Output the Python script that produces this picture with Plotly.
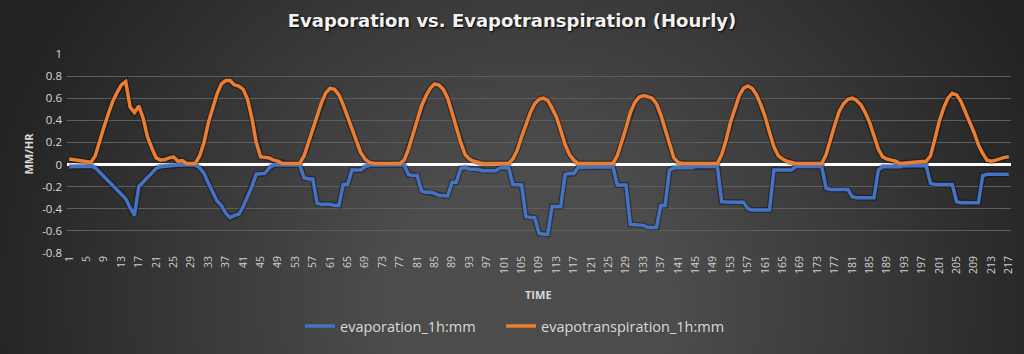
import zlib, struct, base64
import numpy as np
import plotly.graph_objects as go

# ---------------- data ----------------
hours = list(range(1, 218))

evapotranspiration = [
    0.05, 0.045, 0.04, 0.035, 0.03, 0.02, 0.08, 0.22, 0.34, 0.46,
    0.57, 0.65, 0.72, 0.75, 0.52, 0.47, 0.53, 0.42, 0.25, 0.15,
    0.06, 0.04, 0.045, 0.06, 0.07, 0.03, 0.035, 0.01, 0.01, 0.01,
    0.08, 0.2, 0.38, 0.52, 0.64, 0.73, 0.76, 0.76, 0.72, 0.71,
    0.68, 0.59, 0.42, 0.2, 0.07, 0.065, 0.06, 0.04, 0.03, 0.01,
    0.01, 0.01, 0.01, 0.01, 0.08, 0.2, 0.32, 0.44, 0.56, 0.65,
    0.69, 0.68, 0.63, 0.54, 0.43, 0.32, 0.2, 0.11, 0.05, 0.02,
    0.01, 0.01, 0.01, 0.01, 0.01, 0.01, 0.01, 0.04, 0.14, 0.27,
    0.40, 0.53, 0.62, 0.69, 0.73, 0.72, 0.68, 0.6, 0.47, 0.33,
    0.2, 0.09, 0.05, 0.03, 0.02, 0.01, 0.01, 0.01, 0.01, 0.01,
    0.01, 0.01, 0.05, 0.13, 0.25, 0.37, 0.47, 0.55, 0.59, 0.60,
    0.58, 0.51, 0.43, 0.31, 0.18, 0.09, 0.04, 0.01, 0.01, 0.01,
    0.01, 0.01, 0.01, 0.01, 0.01, 0.01, 0.08, 0.2, 0.33, 0.47,
    0.56, 0.61, 0.625, 0.615, 0.6, 0.55, 0.45, 0.32, 0.18, 0.06,
    0.02, 0.01, 0.01, 0.01, 0.01, 0.01, 0.01, 0.01, 0.01, 0.01,
    0.09, 0.22, 0.38, 0.51, 0.62, 0.69, 0.71, 0.69, 0.63, 0.54,
    0.43, 0.29, 0.16, 0.08, 0.05, 0.03, 0.02, 0.01, 0.01, 0.01,
    0.01, 0.01, 0.01, 0.01, 0.09, 0.24, 0.36, 0.48, 0.55, 0.59,
    0.60, 0.58, 0.54, 0.47, 0.38, 0.26, 0.14, 0.07, 0.05, 0.04,
    0.03, 0.01, 0.015, 0.02, 0.02, 0.025, 0.027, 0.03, 0.08, 0.23,
    0.39, 0.51, 0.6, 0.645, 0.63, 0.57, 0.48, 0.38, 0.29, 0.18,
    0.1, 0.04, 0.03, 0.04, 0.055, 0.065, 0.07,
]

evaporation = [
    -0.02, -0.02, -0.02, -0.02, -0.02, -0.015, -0.03, -0.07, -0.11, -0.15,
    -0.19, -0.22, -0.26, -0.31, -0.39, -0.46, -0.2, -0.16, -0.12, -0.075,
    -0.035, -0.02, -0.015, -0.01, -0.01, -0.005, -0.005, -0.005, -0.005, -0.005,
    -0.03, -0.08, -0.17, -0.25, -0.33, -0.37, -0.44, -0.48, -0.46, -0.45,
    -0.38, -0.29, -0.2, -0.085, -0.085, -0.08, -0.03, -0.005, -0.005, -0.005,
    -0.005, -0.005, -0.005, -0.005, -0.12, -0.13, -0.13, -0.35, -0.36, -0.36,
    -0.36, -0.37, -0.37, -0.18, -0.18, -0.05, -0.05, -0.05, -0.02, -0.005,
    -0.005, -0.005, -0.005, -0.005, -0.005, -0.005, -0.005, -0.005, -0.09, -0.1,
    -0.1, -0.24, -0.25, -0.25, -0.26, -0.28, -0.28, -0.285, -0.16, -0.16,
    -0.035, -0.027, -0.04, -0.04, -0.045, -0.055, -0.055, -0.055, -0.055, -0.03,
    -0.027, -0.027, -0.18, -0.185, -0.185, -0.47, -0.48, -0.48, -0.62, -0.63,
    -0.63, -0.38, -0.38, -0.38, -0.09, -0.08, -0.08, -0.027, -0.025, -0.025,
    -0.025, -0.025, -0.025, -0.025, -0.02, -0.02, -0.185, -0.185, -0.185, -0.54,
    -0.545, -0.545, -0.55, -0.57, -0.57, -0.57, -0.37, -0.37, -0.05, -0.03,
    -0.03, -0.03, -0.03, -0.03, -0.018, -0.018, -0.018, -0.018, -0.018, -0.018,
    -0.336, -0.34, -0.34, -0.34, -0.34, -0.34, -0.4, -0.41, -0.41, -0.41,
    -0.41, -0.41, -0.05, -0.05, -0.05, -0.05, -0.05, -0.018, -0.018, -0.018,
    -0.018, -0.018, -0.018, -0.018, -0.215, -0.225, -0.225, -0.225, -0.225, -0.225,
    -0.29, -0.3, -0.3, -0.3, -0.3, -0.3, -0.05, -0.02, -0.02, -0.02,
    -0.02, -0.02, -0.01, -0.01, -0.01, -0.01, -0.01, -0.01, -0.17, -0.18,
    -0.18, -0.18, -0.18, -0.18, -0.336, -0.345, -0.345, -0.345, -0.345, -0.345,
    -0.1, -0.088, -0.088, -0.088, -0.088, -0.088, -0.088,
]

x_tick_values = list(range(1, 218, 4))
x_tick_labels = [str(v) for v in x_tick_values]
y_tick_values = [1, 0.8, 0.6, 0.4, 0.2, 0, -0.2, -0.4, -0.6, -0.8]
y_tick_labels = ["1", "0.8", "0.6", "0.4", "0.2", "0", "-0.2", "-0.4", "-0.6", "-0.8"]

# ---------------- background (radial gradient image) ----------------
W, H = 1024, 354
ML, MR, MT, MB = 67, 13, 54, 101
PW, PH = W - ML - MR, H - MT - MB

yy, xx = np.mgrid[0:H, 0:W]
d = np.hypot(xx - 530.0, (yy - 300.0) * 1.05)
t = np.clip((d - 150.0) / 420.0, 0, 1)
g = (0x4c + (0x22 - 0x4c) * t).astype(np.uint8)
raw = b"".join(b"\x00" + g[r].tobytes() for r in range(H))


def _chunk(tag, data):
    return struct.pack(">I", len(data)) + tag + data + struct.pack(">I", zlib.crc32(tag + data) & 0xFFFFFFFF)


png = (b"\x89PNG\r\n\x1a\n"
       + _chunk(b"IHDR", struct.pack(">IIBBBBB", W, H, 8, 0, 0, 0, 0))
       + _chunk(b"IDAT", zlib.compress(raw, 9))
       + _chunk(b"IEND", b""))
bg_src = "data:image/png;base64," + base64.b64encode(png).decode()

# ---------------- figure ----------------
BLUE = "#4472C4"
ORANGE = "#ED7D31"
FONT = "Open Sans"

fig = go.Figure()
# soft shadows under the lines
for ys in (evaporation, evapotranspiration):
    fig.add_trace(go.Scatter(x=hours, y=ys, mode="lines", showlegend=False, hoverinfo="skip",
                             line=dict(color="rgba(0,0,0,0.35)", width=6)))
fig.add_trace(go.Scatter(x=hours, y=evaporation, mode="lines", name="evaporation_1h:mm",
                         legend="legend", line=dict(color=BLUE, width=3.5)))
fig.add_trace(go.Scatter(x=hours, y=evapotranspiration, mode="lines", name="evapotranspiration_1h:mm",
                         legend="legend2", line=dict(color=ORANGE, width=3.5)))

legend_common = dict(orientation="h", xanchor="left", y=-0.367, yanchor="middle",
                     font=dict(size=14.5, color="#d9d9d9"), bgcolor="rgba(0,0,0,0)")

fig.update_layout(
    width=W, height=H,
    margin=dict(l=ML, r=MR, t=MT, b=MB, autoexpand=False),
    paper_bgcolor="#2a2a2a",
    plot_bgcolor="rgba(0,0,0,0)",
    font=dict(family=FONT, color="#d9d9d9"),
    title=dict(text="Evaporation vs. Evapotranspiration (Hourly)", x=0.5, xanchor="center",
               y=1 - 21 / H, yanchor="middle",
               font=dict(family="DejaVu Sans", size=18, color="#f2f2f2", weight="bold",
                         shadow="1px 1px 2px #000000")),
    images=[dict(source=bg_src, xref="paper", yref="paper", x=-ML / PW, y=1 + MT / PH,
                 sizex=W / PW, sizey=H / PH, xanchor="left", yanchor="top",
                 sizing="stretch", layer="below")],
    xaxis=dict(range=[0.5, 217.5], tickmode="array", tickvals=x_tick_values, ticktext=x_tick_labels,
               tickangle=-90, tickfont=dict(size=10.5, color="#d0d0d0"), showgrid=False,
               zeroline=False, showline=False, ticks="", automargin=False),
    yaxis=dict(range=[-0.8, 1.0], tickmode="array", tickvals=y_tick_values, ticktext=y_tick_labels,
               tickfont=dict(size=11.5, color="#d9d9d9"), showgrid=True, gridcolor="#5e5e5e",
               gridwidth=1, zeroline=True, zerolinecolor="#ffffff", zerolinewidth=3,
               showline=False, ticks="", automargin=False, ticklabelstandoff=4),
    legend=dict(x=(300 - ML) / PW, **legend_common),
    legend2=dict(x=(501 - ML) / PW, **legend_common),
    annotations=[
        dict(text="<b>TIME</b>", xref="paper", yref="paper", x=(538 - ML) / PW, y=-(294 - (MT + PH)) / PH,
             xanchor="center", yanchor="middle", showarrow=False, font=dict(size=11, color="#d9d9d9")),
        dict(text="<b>MM/HR</b>", xref="paper", yref="paper", x=-(ML - 28) / PW, y=0.5,
             xanchor="center", yanchor="middle", textangle=-90, showarrow=False,
             font=dict(size=11, color="#d9d9d9")),
    ],
)

fig.write_html("out.html")
